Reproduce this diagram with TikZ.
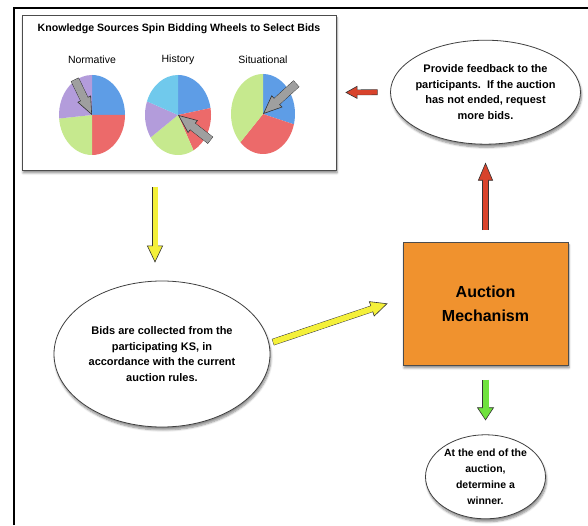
\documentclass[tikz,border=0pt]{standalone}
\usepackage{fontspec}
\setmainfont{Liberation Sans}
\usetikzlibrary{arrows.meta,positioning,shapes.geometric,shadows.blur}

\definecolor{kblue}{HTML}{5E9DE6}
\definecolor{kred}{HTML}{EC6A6A}
\definecolor{kgreen}{HTML}{C6E98E}
\definecolor{kpurple}{HTML}{B39CDB}
\definecolor{kcyan}{HTML}{70C9EC}
\definecolor{korange}{HTML}{F0922E}
\definecolor{kyellow}{HTML}{F4F03A}
\definecolor{kredarrow}{HTML}{D8432C}
\definecolor{kgreenarrow}{HTML}{6FE23D}

\begin{document}
\begin{tikzpicture}[x=1pt,y=1pt,node distance=60pt,
    fat/.style n args={4}{preaction={draw=black!80,line width=#2+1.2pt,shorten >=#4-3pt,shorten <=-0.6pt,-},
      draw=#1,line width=#2,-{Triangle[length=#4,width=#3,fill=#1,color=black!80,line width=0.6pt]},
      postaction={draw=#1,line width=#2,shorten >=#4-2pt,-}}]
  \tikzstyle{shade}=[blur shadow={shadow xshift=1pt,shadow yshift=-3pt,shadow blur steps=6,shadow opacity=45}]
  \tikzstyle{bubble}=[ellipse,draw=black!75,line width=0.8pt,fill=white,inner sep=-4pt,align=center,
      font=\bfseries\fontsize{11}{15.7}\selectfont,shade]

  \useasboundingbox (0,0) rectangle (588,525);
  \draw[line width=2.4pt] (14,0) -- (14,517) -- (590,517);

  \node[draw=black!70,line width=0.8pt,fill=white,minimum width=314pt,minimum height=155pt,shade] (K) at (179,432.5) {};
  \node[font=\bfseries\fontsize{10.6}{12}\selectfont] (T) at (179,496) {Knowledge Sources Spin Bidding Wheels to Select Bids};
  \node[font=\fontsize{10.5}{12}\selectfont] (Nl) at (92,465) {Normative};
  \node[font=\fontsize{10.5}{12}\selectfont] (Hl) at (178,465) {History};
  \node[font=\fontsize{10.5}{12}\selectfont] (Sl) at (263,465) {Situational};
  \coordinate (N) at (92,410);
  \coordinate (H) at (178,410);
  \coordinate (S) at (263,411);
  \foreach \a/\b/\c in {90/0/kblue,0/-90/kred,-90/-175/kgreen,-175/-270/kpurple}
    \fill[\c] (N) -- ++(\a:33pt and 40pt) arc[start angle=\a,end angle=\b,x radius=33pt,y radius=40pt] -- cycle;
  \foreach \a/\b/\c in {90/10/kblue,10/-62/kred,-62/-146/kgreen,-146/-200/kpurple,-200/-270/kcyan}
    \fill[\c] (H) -- ++(\a:33pt and 40pt) arc[start angle=\a,end angle=\b,x radius=33pt,y radius=40pt] -- cycle;
  \foreach \a/\b/\c in {90/-15/kblue,-15/-135/kred,-135/-270/kgreen}
    \fill[\c] (S) -- ++(\a:32pt and 40pt) arc[start angle=\a,end angle=\b,x radius=32pt,y radius=40pt] -- cycle;
  \draw[fat={gray!75}{7.5pt}{15pt}{18pt}] ([shift={(-17pt,35pt)}]N) -- (N);
  \draw[fat={gray!75}{7.5pt}{16pt}{19pt}] ([shift={(32pt,-25pt)}]H) -- (H);
  \draw[fat={gray!75}{7.5pt}{16pt}{19pt}] ([shift={(33pt,30pt)}]S) -- (S);

  \node[draw=black!70,line width=0.8pt,fill=korange,minimum width=165pt,minimum height=123pt,
        align=center,font=\bfseries\fontsize{16}{24}\selectfont,shade] (M) at (485.5,221.5) {Auction\\Mechanism};
  \node[bubble,minimum width=190pt,minimum height=104pt,above=97pt of M] (F)
        {Provide feedback to the\\participants.\ \ If the auction\\has not ended, request\\more bids.};
  \node[bubble,minimum width=216pt,minimum height=146pt] (B) at (162,171)
        {Bids are collected from the\\participating KS, in\\accordance with the current\\auction rules.};
  \node[bubble,minimum width=120pt,minimum height=84pt,below=69pt of M,
        font=\bfseries\fontsize{10.5}{16}\selectfont] (W) {At the end of the\\auction,\\determine a\\winner.};

  \draw[fat={kyellow}{5pt}{16pt}{17pt}] ([xshift=-24pt,yshift=-17pt]K.south) -- ([xshift=-7pt,yshift=18pt]B.north);
  \draw[fat={kyellow}{5.5pt}{16pt}{17pt}] ([xshift=3pt,yshift=12pt]B.east) -- ([xshift=-15pt]M.west);
  \draw[fat={kredarrow}{5pt}{15pt}{18pt}] ([yshift=12pt]M.north) -- ([yshift=-18pt]F.south);
  \draw[fat={kredarrow}{4.5pt}{13pt}{12pt}] ([xshift=-13pt]F.west) -- ([xshift=9pt]K.east);
  \draw[fat={kgreenarrow}{6pt}{17pt}{13pt}] ([yshift=-15pt]M.south) -- ([yshift=14pt]W.north);
\end{tikzpicture}
\end{document}
